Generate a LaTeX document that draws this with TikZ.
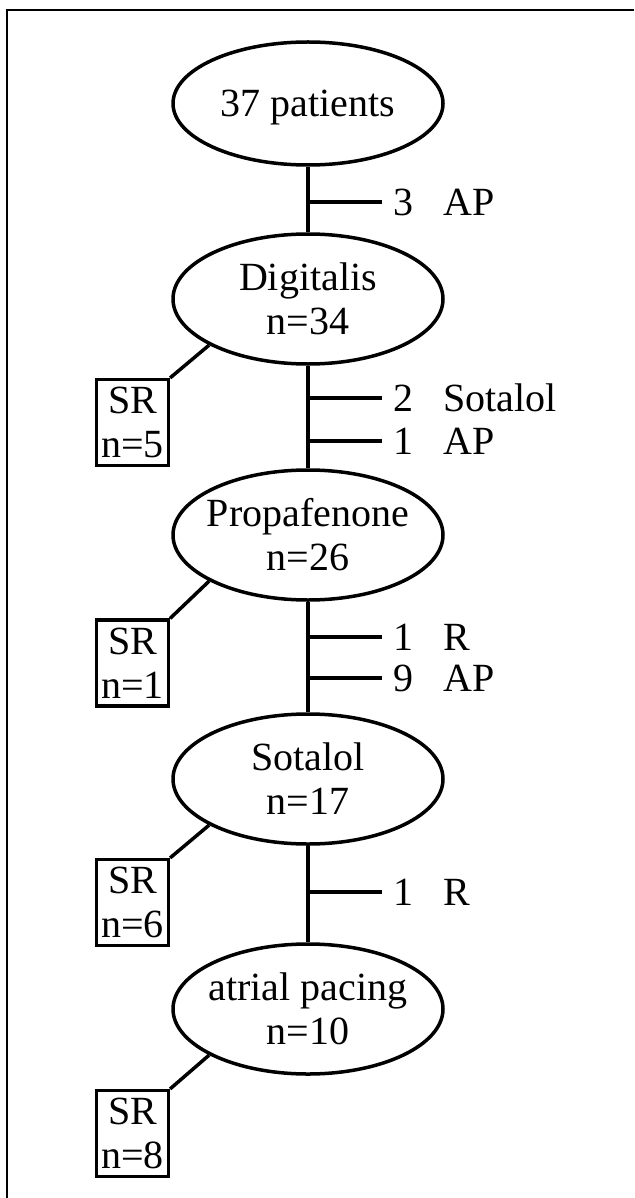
\documentclass[tikz,border=0pt]{standalone}
\usepackage{fontspec}
\setmainfont{Liberation Serif}
\usetikzlibrary{shapes.geometric}
\begin{document}
\begin{tikzpicture}[x=1pt,y=-1pt,
  every node/.style={font=\fontsize{40}{44}\selectfont},
  stage/.style={ellipse, draw, line width=3.5pt, minimum width=270pt, minimum height=130pt, inner sep=-6pt, align=center},
  srbox/.style={rectangle, draw, line width=3.2pt, minimum width=72pt, minimum height=86pt, inner sep=0pt, align=center},
  lbl/.style={anchor=west, inner xsep=11pt, inner ysep=0pt},
  conn/.style={line width=3.5pt},
  frame/.style={line width=1.3pt}
]
\useasboundingbox (0,0) rectangle (634,1198);
\draw[frame] (634,10) -- (7,10) -- (7,1205);

% stages
\node[stage, minimum height=123pt] (a) at (308,103.5) {\raisebox{0pt}[\height][0pt]{37 patients}};
\node[stage] (b) at (308,299) {Digitalis\\n=34};
\node[stage] (c) at (308,535) {Propafenone\\n=26};
\node[stage] (d) at (308,779) {Sotalol\\n=17};
\node[stage] (e) at (308,1009) {atrial pacing\\n=10};

% SR boxes
\node[srbox] (s1) at (132.5,422.5) {SR\\n=5};
\node[srbox] (s2) at (132.5,663) {SR\\n=1};
\node[srbox] (s3) at (132.5,902.5) {SR\\n=6};
\node[srbox] (s4) at (132.5,1133.5) {SR\\n=8};

% main line
\draw[conn] (a) -- (b);
\draw[conn] (b) -- (c);
\draw[conn] (c) -- (d);
\draw[conn] (d) -- (e);

% SR connectors
\draw[conn] (b.205) -- (s1.north east);
\draw[conn] (c.205) -- (s2.north east);
\draw[conn] (d.205) -- (s3.north east);
\draw[conn] (e.205) -- (s4.north east);

% drop-out ticks
\coordinate (k1) at (308,202);
\coordinate (k2) at (308,398);
\coordinate (k3) at (308,441);
\coordinate (k4) at (308,637);
\coordinate (k5) at (308,678);
\coordinate (k6) at (308,892);
\node[lbl] (t1) at (382,202) {\makebox[50pt][l]{3}AP};
\node[lbl] (t2) at (382,398) {\makebox[50pt][l]{2}Sotalol};
\node[lbl] (t3) at (382,441) {\makebox[50pt][l]{1}AP};
\node[lbl] (t4) at (382,637) {\makebox[50pt][l]{1}R};
\node[lbl] (t5) at (382,678) {\makebox[50pt][l]{9}AP};
\node[lbl] (t6) at (382,892) {\makebox[50pt][l]{1}R};
\draw[conn] (k1) -- (t1.west);
\draw[conn] (k2) -- (t2.west);
\draw[conn] (k3) -- (t3.west);
\draw[conn] (k4) -- (t4.west);
\draw[conn] (k5) -- (t5.west);
\draw[conn] (k6) -- (t6.west);
\end{tikzpicture}
\end{document}
